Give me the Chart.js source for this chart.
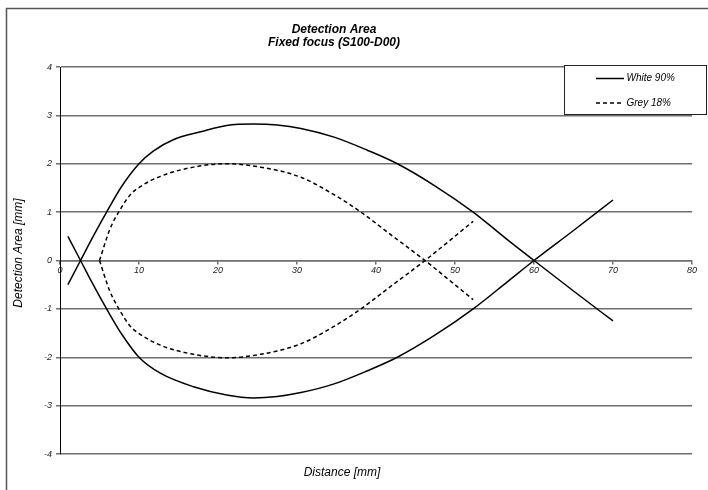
<!DOCTYPE html>
<html>
<head>
<meta charset="utf-8">
<script src="https://cdn.jsdelivr.net/npm/chart.js@4.4.1/dist/chart.umd.min.js"></script>
<style>
  html, body { margin: 0; padding: 0; background: #fff; }
  #wrap { width: 708px; height: 490px; position: relative; }
</style>
</head>
<body>
<div id="wrap"><canvas id="chart"></canvas></div>
<script>
// values
const whiteUpperX = [1, 2.6, 4.2, 5.9, 7.8, 10, 11.8, 14.4, 17.8, 21.1, 24.5, 27.5, 30.5, 34.7, 38.9, 42.7, 47.4, 52.3, 56.7, 60, 65, 70];
const whiteUpperY = [-0.5, 0, 0.5, 1, 1.53, 2, 2.26, 2.5, 2.66, 2.79, 2.82, 2.8, 2.73, 2.55, 2.28, 2, 1.55, 1, 0.42, 0, -0.63, -1.25];
const whiteLowerX = [1, 2.6, 4.2, 5.9, 7.8, 10, 12.7, 16.9, 21.1, 24.5, 27.5, 30.5, 34.7, 38.9, 42.7, 47.4, 52.3, 56.7, 60, 65, 70];
const whiteLowerY = [0.5, 0, -0.5, -1, -1.52, -2, -2.33, -2.61, -2.78, -2.84, -2.81, -2.73, -2.55, -2.28, -2, -1.55, -1, -0.43, 0, 0.62, 1.25];
const greyUpperX = [5, 6.3, 7.6, 8.9, 10.1, 12.7, 16.9, 21.1, 25.4, 30.5, 34.7, 38.1, 41.9, 46.2, 52.3];
const greyUpperY = [0, 0.64, 1.05, 1.36, 1.52, 1.74, 1.93, 2.0, 1.93, 1.72, 1.36, 1.0, 0.53, 0, -0.81];
const greyLowerX = [5, 6.3, 7.6, 8.9, 10.1, 12.7, 16.9, 21.1, 25.4, 30.5, 34.7, 38.1, 41.9, 46.2, 52.3];
const greyLowerY = [0, -0.63, -1.04, -1.36, -1.52, -1.75, -1.94, -2.01, -1.94, -1.72, -1.36, -1.0, -0.53, 0, 0.81];

const titleLines = ['Detection Area', 'Fixed focus (S100-D00)'];
const xTitle = 'Distance [mm]';
const yTitle = 'Detection Area [mm]';
const seriesNames = ['White 90%', 'Grey 18%'];

const FONT = '"Liberation Sans", Arial, sans-serif';
const GRID = '#6f6f6f';

function points(xs, ys) {
  return xs.map((x, i) => ({x: x, y: ys[i]}));
}

function line(label, xs, ys, dash) {
  return {
    label: label,
    data: points(xs, ys),
    showLine: true,
    borderColor: '#000',
    borderWidth: 1.5,
    borderDash: dash,
    pointRadius: 0,
    fill: false,
    cubicInterpolationMode: 'monotone',
  };
}

// frame, titles and the boxed legend like the excel original
const decor = {
  id: 'decor',
  beforeDraw(chart) {
    const ctx = chart.ctx;
    ctx.save();
    ctx.strokeStyle = '#555';
    ctx.lineWidth = 1.5;
    ctx.strokeRect(6.5, 8.5, 800, 600);
    ctx.restore();
  },
  afterDraw(chart) {
    const ctx = chart.ctx;
    ctx.save();
    ctx.fillStyle = '#000';
    ctx.textAlign = 'center';
    ctx.textBaseline = 'middle';
    ctx.font = 'italic bold 12px ' + FONT;
    ctx.fillText(titleLines[0], 334, 30);
    ctx.fillText(titleLines[1], 334, 42.5);

    ctx.font = 'italic 12px ' + FONT;
    ctx.fillText(xTitle, 342, 472.5);
    ctx.translate(18.5, 253);
    ctx.rotate(-Math.PI / 2);
    ctx.fillText(yTitle, 0, 0);
    ctx.restore();

    // legend box
    ctx.save();
    ctx.fillStyle = '#fff';
    ctx.fillRect(564.5, 65.5, 142, 49);
    ctx.strokeStyle = '#222';
    ctx.lineWidth = 1;
    ctx.strokeRect(564.5, 65.5, 142, 49);
    ctx.font = 'italic 10px ' + FONT;
    ctx.textAlign = 'left';
    ctx.textBaseline = 'middle';
    seriesNames.forEach((name, i) => {
      const ds = chart.data.datasets.find(d => d.label === name);
      const y = 78.5 + i * 24.5;
      ctx.beginPath();
      ctx.setLineDash(ds.borderDash || []);
      ctx.strokeStyle = ds.borderColor;
      ctx.lineWidth = ds.borderWidth;
      ctx.moveTo(596, y);
      ctx.lineTo(624, y);
      ctx.stroke();
      ctx.setLineDash([]);
      ctx.fillStyle = '#000';
      ctx.fillText(name, 626.5, y);
    });
    ctx.restore();
  }
};

new Chart(document.getElementById('chart'), {
  type: 'scatter',
  data: {
    datasets: [
      line(seriesNames[0], whiteUpperX, whiteUpperY, []),
      line(seriesNames[0], whiteLowerX, whiteLowerY, []),
      line(seriesNames[1], greyUpperX, greyUpperY, [4, 3]),
      line(seriesNames[1], greyLowerX, greyLowerY, [4, 3]),
    ]
  },
  options: {
    responsive: true,
    maintainAspectRatio: false,
    animation: false,
    layout: {padding: {left: 6, right: 16, top: 67, bottom: 36}},
    plugins: {
      legend: {display: false},
      tooltip: {enabled: false},
    },
    scales: {
      x: {
        type: 'linear',
        position: {y: 0},
        min: 0,
        max: 80,
        ticks: {
          stepSize: 10,
          padding: 2,
          color: '#222',
          font: {family: FONT, size: 9, style: 'italic'},
        },
        grid: {drawOnChartArea: false, tickLength: 3, color: GRID, lineWidth: 1.5},
        border: {color: GRID, width: 1.5},
      },
      y: {
        type: 'linear',
        position: 'left',
        min: -4,
        max: 4,
        afterFit(scale) { scale.width = 54; },
        ticks: {
          stepSize: 1,
          padding: 4,
          color: '#222',
          font: {family: FONT, size: 9, style: 'italic'},
        },
        grid: {color: GRID, lineWidth: 1.5, tickLength: 4},
        border: {color: '#000', width: 1},
      },
    },
  },
  plugins: [decor],
});
</script>
</body>
</html>
